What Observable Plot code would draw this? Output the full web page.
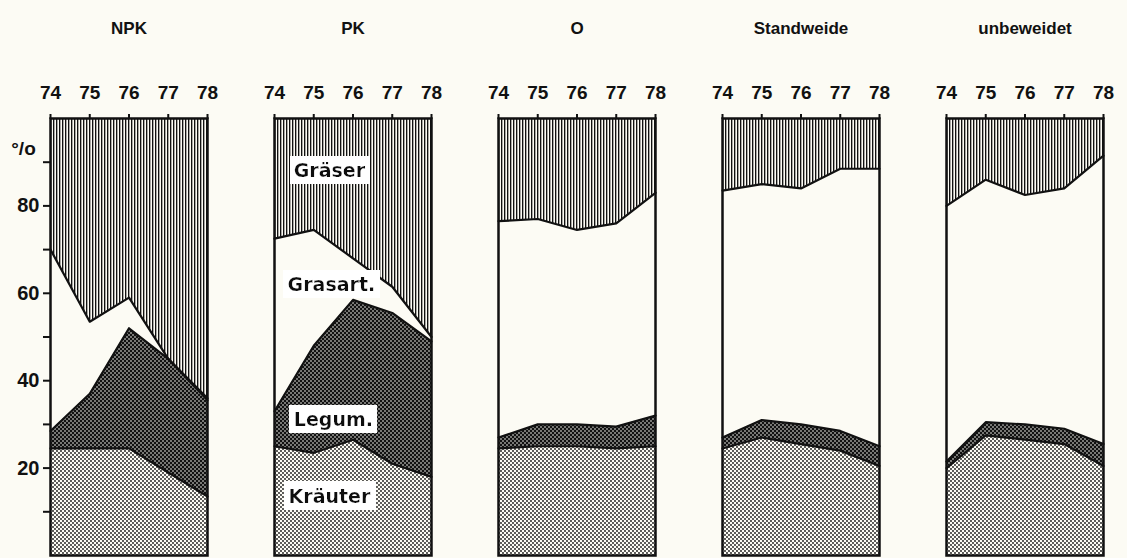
<!DOCTYPE html>
<html><head><meta charset="utf-8">
<script src="https://cdn.jsdelivr.net/npm/d3@7"></script>
<script src="https://cdn.jsdelivr.net/npm/@observablehq/plot@0.6"></script>
<style>
html,body{margin:0;padding:0;background:#fcfbf4;}
#chart svg{display:block;}
</style></head><body><div id="chart"></div>
<script>
// ---- data (shares in %, per panel, years 74..78) ----
const panels = ["NPK", "PK", "O", "Standweide", "unbeweidet"];
const years = [74, 75, 76, 77, 78];
const categories = ["Kräuter", "Legum.", "Grasart.", "Gräser"];
const kraeuter = [
  [24.5, 24.5, 24.5, 19, 13.5],
  [25, 23.5, 26.5, 21, 18],
  [24.5, 25, 25, 24.5, 25],
  [24.5, 27, 25.5, 24, 20.5],
  [20, 27.5, 26.5, 25.5, 20.5]
];
const legum = [
  [4, 12.5, 27.5, 26, 22],
  [8, 24.5, 32, 34.5, 31],
  [2.5, 5, 5, 5, 7],
  [2.5, 4, 4.5, 4.5, 4.5],
  [1.5, 3, 3.5, 3.5, 5]
];
const grasart = [
  [41.5, 16.5, 7, 0, 0.5],
  [39.5, 26.5, 9.5, 6, 1],
  [49.5, 47, 44.5, 46.5, 51],
  [56.5, 54, 54, 60, 63.5],
  [58.5, 55.5, 52.5, 55, 66]
];
const graeser = [
  [30, 46.5, 41, 55, 64],
  [27.5, 25.5, 32, 38.5, 50],
  [23.5, 23, 25.5, 24, 17],
  [16.5, 15, 16, 11.5, 11.5],
  [20, 14, 17.5, 16, 8.5]
];
const yTicks = [10, 20, 30, 40, 50, 60, 70, 80, 90];
const yTickLabels = [20, 40, 60, 80];
const categoryLabels = [
  {panel: "PK", year: 75.4, pct: 88, text: "Gräser"},
  {panel: "PK", year: 75.45, pct: 62, text: "Grasart."},
  {panel: "PK", year: 75.5, pct: 31, text: "Legum."},
  {panel: "PK", year: 75.4, pct: 13.5, text: "Kräuter"}
];
const unitLabel = [{panel: "NPK", year: 74, pct: 93, text: "°/o"}];

// ---- build table ----
const series = [kraeuter, legum, grasart, graeser];
const data = [];
panels.forEach((p, i) => years.forEach((yr, j) => {
  categories.forEach((c, k) => data.push({panel: p, year: yr, cat: c, value: series[k][i][j]}));
}));

const BG = "#fcfbf4";
const FONT = "Liberation Sans, Arial, sans-serif";
const plot = Plot.plot({
  width: 1127, height: 558,
  marginTop: 118, marginBottom: 3, marginLeft: 48, marginRight: 22,
  style: {background: "transparent", fontFamily: FONT, color: "#111", overflow: "visible"},
  fx: {domain: panels, paddingInner: 0.3, paddingOuter: 0, label: null},
  x: {domain: [74, 78], label: null},
  y: {domain: [0, 100], label: null},
  color: {type: "ordinal", domain: categories,
          range: ["url(#dotsLight)", "url(#dotsDark)", BG, "url(#hatch)"]},
  marks: [
    Plot.areaY(data, Plot.stackY({fx: "panel", x: "year", y: "value", z: "cat", order: categories, fill: "cat"})),
    Plot.lineY(data.filter(d => d.cat !== "Gräser"),
      Plot.stackY2({fx: "panel", x: "year", y: "value", z: "cat", order: categories, stroke: "#111", strokeWidth: 2.2})),
    Plot.frame({stroke: "#111", strokeWidth: 2.5}),
    Plot.axisFx({anchor: "top", tickSize: 0, tickPadding: 85, fontSize: 17, fontWeight: "bold", label: null}),
    Plot.axisX({anchor: "top", ticks: years, tickFormat: d => String(d), tickSize: 5, tickPadding: 15,
                fontSize: 19, fontWeight: "bold", label: null, strokeWidth: 2}),
    Plot.axisY({anchor: "left", ticks: yTicks, tickSize: 7, tickPadding: 4,
                tickFormat: d => yTickLabels.includes(d) ? String(d) : "", fontSize: 20, fontWeight: "bold",
                label: null, strokeWidth: 2}),
    Plot.text(unitLabel, {fx: "panel", x: "year", y: "pct", text: "text", dx: -27, fontSize: 19, fontWeight: "bold"}),
    Plot.text(categoryLabels, {fx: "panel", x: "year", y: "pct", text: "text", fontSize: 19,
                               fontFamily: "DejaVu Sans", fontWeight: "bold", fill: "#111"})
  ]
});

// ---- patterns ----
const ns = "http://www.w3.org/2000/svg";
const defs = document.createElementNS(ns, "defs");
defs.innerHTML = `
<pattern id="hatch" patternUnits="userSpaceOnUse" width="3" height="3">
  <rect width="3" height="3" fill="${BG}"/><rect x="0" width="1.35" height="3" fill="#111"/>
</pattern>
<pattern id="dotsLight" patternUnits="userSpaceOnUse" width="4" height="4">
  <rect width="4" height="4" fill="${BG}"/>
  <circle cx="1" cy="1" r="0.9" fill="#111"/><circle cx="3" cy="3" r="0.9" fill="#111"/>
</pattern>
<pattern id="dotsDark" patternUnits="userSpaceOnUse" width="4" height="4">
  <rect width="4" height="4" fill="#111"/>
  <circle cx="1" cy="1" r="0.8" fill="${BG}"/><circle cx="3" cy="3" r="0.8" fill="${BG}"/>
</pattern>
<filter id="whitebg" x="-0.05" y="-0.12" width="1.1" height="1.24">
  <feFlood flood-color="#ffffff"/><feComposite in="SourceGraphic" operator="over"/>
</filter>`;
plot.insertBefore(defs, plot.firstChild);
const labelTexts = categoryLabels.map(d => d.text);
plot.querySelectorAll("text").forEach(t => {
  if (labelTexts.includes(t.textContent)) t.setAttribute("filter", "url(#whitebg)");
});
document.getElementById("chart").append(plot);
</script>
</body></html>
